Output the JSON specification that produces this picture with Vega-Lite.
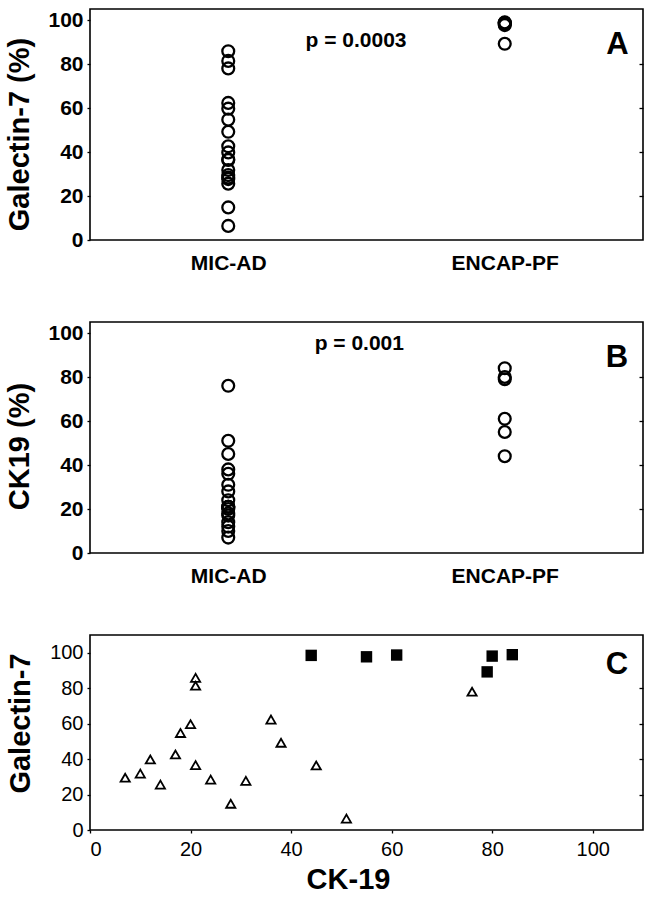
{
  "$schema": "https://vega.github.io/schema/vega-lite/v6.json",
  "background": "white",
  "padding": {"left": 5, "top": 8, "right": 4, "bottom": 2},
  "config": {
    "view": {"stroke": "black", "strokeWidth": 1.6},
    "font": "Liberation Sans",
    "axis": {"domain": false, "grid": false, "labelColor": "black", "titleColor": "black", "tickColor": "black", "tickWidth": 1.3, "labelFont": "Liberation Sans", "titleFont": "Liberation Sans"}
  },
  "datasets": {
    "pts": [
      {"group": "MIC-AD", "ck19": 7, "gal7": 29.5},
      {"group": "MIC-AD", "ck19": 10, "gal7": 31.8},
      {"group": "MIC-AD", "ck19": 12, "gal7": 39.8},
      {"group": "MIC-AD", "ck19": 14, "gal7": 25.6},
      {"group": "MIC-AD", "ck19": 17, "gal7": 42.6},
      {"group": "MIC-AD", "ck19": 18, "gal7": 54.7},
      {"group": "MIC-AD", "ck19": 20, "gal7": 59.7},
      {"group": "MIC-AD", "ck19": 21, "gal7": 85.8},
      {"group": "MIC-AD", "ck19": 21, "gal7": 81.4},
      {"group": "MIC-AD", "ck19": 21, "gal7": 36.6},
      {"group": "MIC-AD", "ck19": 24, "gal7": 28.4},
      {"group": "MIC-AD", "ck19": 28, "gal7": 14.8},
      {"group": "MIC-AD", "ck19": 31, "gal7": 27.7},
      {"group": "MIC-AD", "ck19": 36, "gal7": 62.3},
      {"group": "MIC-AD", "ck19": 38, "gal7": 49.2},
      {"group": "MIC-AD", "ck19": 45, "gal7": 36.4},
      {"group": "MIC-AD", "ck19": 51, "gal7": 6.4},
      {"group": "MIC-AD", "ck19": 76, "gal7": 78},
      {"group": "ENCAP-PF", "ck19": 44, "gal7": 98.5},
      {"group": "ENCAP-PF", "ck19": 55, "gal7": 97.7},
      {"group": "ENCAP-PF", "ck19": 61, "gal7": 98.7},
      {"group": "ENCAP-PF", "ck19": 79, "gal7": 89.2},
      {"group": "ENCAP-PF", "ck19": 80, "gal7": 98.1},
      {"group": "ENCAP-PF", "ck19": 84, "gal7": 98.9}
    ]
  },
  "spacing": 82,
  "bounds": "flush",
  "vconcat": [
    {
      "width": 553,
      "height": 231,
      "layer": [
        {
          "data": {"name": "pts"},
          "mark": {"type": "point", "shape": "circle", "filled": false, "stroke": "black", "strokeWidth": 2.3, "size": 140, "opacity": 1},
          "encoding": {
            "x": {"field": "group", "type": "nominal", "sort": ["MIC-AD", "ENCAP-PF"],
                  "scale": {"type": "point", "padding": 0.5, "domain": ["MIC-AD", "ENCAP-PF"]},
                  "axis": {"title": null, "ticks": false, "labelPadding": 12, "labelFontSize": 21, "labelFontWeight": "bold", "labelAngle": 0}},
            "y": {"field": "gal7", "type": "quantitative", "scale": {"domain": [0, 105], "nice": false, "zero": true},
                  "axis": {"title": "Galectin-7 (%)", "titleFontSize": 29, "titleFontWeight": "bold", "titlePadding": 13, "titleY": 125,
                           "labelFontSize": 21, "labelFontWeight": "bold", "values": [0, 20, 40, 60, 80, 100], "tickSize": 3, "labelPadding": 4}}
          }
        },
        {
          "data": {"values": [{}]},
          "mark": {"type": "text", "text": "p = 0.0003", "fontSize": 21, "fontWeight": "bold", "align": "center", "baseline": "alphabetic", "color": "black"},
          "encoding": {
            "x": {"datum": 0.481, "type": "quantitative", "scale": {"domain": [0, 1]}, "axis": null},
            "y": {"datum": 87.9, "type": "quantitative",
                  "axis": {"orient": "right", "title": null, "labels": false, "values": [20, 40, 60, 80], "tickSize": -4}}
          }
        },
        {
          "data": {"values": [{}]},
          "mark": {"type": "text", "text": "A", "fontSize": 31, "fontWeight": "bold", "align": "center", "baseline": "alphabetic", "color": "black"},
          "encoding": {
            "x": {"datum": 0.954, "type": "quantitative", "scale": {"domain": [0, 1]}, "axis": null},
            "y": {"datum": 84.7, "type": "quantitative", "axis": null}
          }
        }
      ],
      "resolve": {"scale": {"x": "independent"}, "axis": {"y": "independent"}}
    },
    {
      "width": 553,
      "height": 231,
      "layer": [
        {
          "data": {"name": "pts"},
          "mark": {"type": "point", "shape": "circle", "filled": false, "stroke": "black", "strokeWidth": 2.3, "size": 140, "opacity": 1},
          "encoding": {
            "x": {"field": "group", "type": "nominal", "sort": ["MIC-AD", "ENCAP-PF"],
                  "scale": {"type": "point", "padding": 0.5, "domain": ["MIC-AD", "ENCAP-PF"]},
                  "axis": {"title": null, "ticks": false, "labelPadding": 12, "labelFontSize": 21, "labelFontWeight": "bold", "labelAngle": 0}},
            "y": {"field": "ck19", "type": "quantitative", "scale": {"domain": [0, 105], "nice": false, "zero": true},
                  "axis": {"title": "CK19 (%)", "titleFontSize": 29, "titleFontWeight": "bold", "titlePadding": 13, "titleY": 124,
                           "labelFontSize": 21, "labelFontWeight": "bold", "values": [0, 20, 40, 60, 80, 100], "tickSize": 3, "labelPadding": 4}}
          }
        },
        {
          "data": {"values": [{}]},
          "mark": {"type": "text", "text": "p = 0.001", "fontSize": 21, "fontWeight": "bold", "align": "center", "baseline": "alphabetic", "color": "black"},
          "encoding": {
            "x": {"datum": 0.487, "type": "quantitative", "scale": {"domain": [0, 1]}, "axis": null},
            "y": {"datum": 92.4, "type": "quantitative",
                  "axis": {"orient": "right", "title": null, "labels": false, "values": [20, 40, 60, 80], "tickSize": -4}}
          }
        },
        {
          "data": {"values": [{}]},
          "mark": {"type": "text", "text": "B", "fontSize": 31, "fontWeight": "bold", "align": "center", "baseline": "alphabetic", "color": "black"},
          "encoding": {
            "x": {"datum": 0.953, "type": "quantitative", "scale": {"domain": [0, 1]}, "axis": null},
            "y": {"datum": 84.5, "type": "quantitative", "axis": null}
          }
        }
      ],
      "resolve": {"scale": {"x": "independent"}, "axis": {"y": "independent"}}
    },
    {
      "width": 553,
      "height": 195,
      "data": {"name": "pts"},
      "layer": [
        {
          "transform": [{"filter": "datum.group === 'MIC-AD'"}],
          "mark": {"type": "point", "shape": "triangle-up", "filled": false, "stroke": "black", "strokeWidth": 1.8, "size": 85, "opacity": 1},
          "encoding": {
            "x": {"field": "ck19", "type": "quantitative", "scale": {"domain": [0, 110], "nice": false},
                  "axis": {"title": "CK-19", "titleFontSize": 29, "titleFontWeight": "bold", "titlePadding": 6, "titleX": 258,
                           "labelFontSize": 20, "values": [0, 20, 40, 60, 80, 100], "tickSize": 3, "labelPadding": 6}},
            "y": {"field": "gal7", "type": "quantitative", "scale": {"domain": [0, 110], "nice": false},
                  "axis": {"title": "Galectin-7", "titleFontSize": 29, "titleFontWeight": "bold", "titlePadding": 14, "titleY": 88,
                           "labelFontSize": 20, "values": [0, 20, 40, 60, 80, 100], "tickSize": 3, "labelPadding": 4}}
          }
        },
        {
          "transform": [{"filter": "datum.group === 'ENCAP-PF'"}],
          "mark": {"type": "square", "color": "black", "size": 130, "opacity": 1},
          "encoding": {
            "x": {"field": "ck19", "type": "quantitative", "axis": null},
            "y": {"field": "gal7", "type": "quantitative", "axis": null}
          }
        },
        {
          "data": {"values": [{}]},
          "mark": {"type": "text", "text": "C", "fontSize": 31, "fontWeight": "bold", "align": "center", "baseline": "alphabetic", "color": "black"},
          "encoding": {
            "x": {"datum": 104.8, "type": "quantitative", "axis": null},
            "y": {"datum": 87.9, "type": "quantitative",
                  "axis": {"orient": "right", "title": null, "labels": false, "values": [20, 40, 60, 80], "tickSize": -4}}
          }
        }
      ],
      "resolve": {"axis": {"x": "independent", "y": "independent"}}
    }
  ]
}
